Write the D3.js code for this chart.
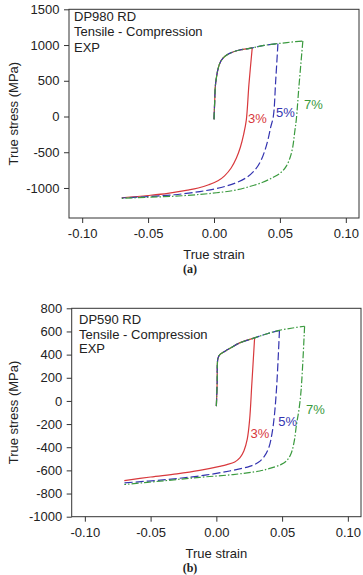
<!DOCTYPE html>
<html>
<head>
<meta charset="utf-8">
<script src="https://cdn.jsdelivr.net/npm/d3@7"></script>
<style>
  body { margin: 0; background: #fff; }
  text { font-family: "Liberation Sans", Arial, sans-serif; fill: #222; }
</style>
</head>
<body>
<script>
// x ticks (shared)
var xTicks = [-0.10, -0.05, 0.00, 0.05, 0.10];
var xTickLabels = ["-0.10", "-0.05", "0.00", "0.05", "0.10"];

// panel (a) DP980
var yTicksA = [-1000, -500, 0, 500, 1000, 1500];
var loadA = [[0,-40],[0.0005,200],[0.001,420],[0.0018,540],[0.003,660],[0.0045,750],[0.007,820],[0.01,865],
  [0.0144,903],[0.0195,930],[0.029,960],[0.038,995],[0.0485,1020],[0.058,1040],[0.0674,1056]];
var rev3A = [[0.029,960],[0.0265,450],[0.0245,-50],[0.0225,-250],[0.02,-430],[0.017,-580],[0.013,-720],
  [0.008,-830],[0.003,-900],[-0.004,-955],[-0.012,-1000],[-0.02,-1030],[-0.035,-1075],[-0.05,-1105],[-0.07,-1137]];
var rev5A = [[0.0485,1020],[0.0468,500],[0.045,0],[0.043,-150],[0.041,-320],[0.0385,-480],[0.0355,-620],
  [0.031,-750],[0.025,-850],[0.017,-925],[0.009,-975],[0,-1015],[-0.0108,-1050],[-0.03,-1095],[-0.05,-1120],[-0.07,-1140]];
var rev7A = [[0.0674,1056],[0.0644,413],[0.0624,-50],[0.0612,-220],[0.0598,-420],[0.0578,-570],[0.055,-690],
  [0.051,-780],[0.045,-850],[0.037,-920],[0.027,-980],[0.015,-1035],[0.002,-1067],[-0.0108,-1090],[-0.03,-1115],[-0.05,-1130],[-0.07,-1145]];

// panel (b) DP590
var yTicksB = [-1000, -800, -600, -400, -200, 0, 200, 400, 600, 800];
var loadB = [[0,-45],[0.0006,150],[0.0012,367],[0.0025,398],[0.006,425],[0.0101,453],[0.0177,501],
  [0.0291,545],[0.038,578],[0.048,610],[0.058,630],[0.0671,645]];
var rev3B = [[0.0291,545],[0.027,150],[0.0253,-163],[0.0235,-330],[0.021,-430],[0.018,-490],[0.014,-527],
  [0.008,-550],[0.0025,-565],[-0.0127,-600],[-0.03,-630],[-0.05,-657],[-0.07,-688]];
var rev5B = [[0.048,610],[0.046,150],[0.0443,-106],[0.0425,-270],[0.04,-400],[0.0367,-475],[0.032,-530],
  [0.0253,-565],[0.0101,-605],[-0.0127,-648],[-0.038,-679],[-0.07,-708]];
var rev7B = [[0.0671,645],[0.0645,100],[0.0628,-77],[0.061,-200],[0.0592,-350],[0.057,-450],[0.054,-510],
  [0.049,-550],[0.04,-585],[0.033,-605],[0.0127,-636],[-0.0127,-660],[-0.04,-690],[-0.07,-722]];

var seriesNames = ["3%", "5%", "7%"];
var peaks = [0.03, 0.049, 0.068];   // loading cut-off for each cycle

var svg = d3.select("body").append("svg")
    .attr("width", 363).attr("height", 575);

var styles = [
  {color: "#d8383c", dash: null},
  {color: "#3434b0", dash: "8,3"},
  {color: "#3a9a3e", dash: "7,2,1.5,2"}
];

function drawPanel(p) {
  var x = d3.scaleLinear().domain([-0.11, 0.11]).range([p.left, p.right]);
  var y = d3.scaleLinear().domain(p.yDomain).range([p.bottom, p.top]);
  var g = svg.append("g");

  // frame
  g.append("rect")
      .attr("x", p.left).attr("y", p.top)
      .attr("width", p.right - p.left).attr("height", p.bottom - p.top)
      .attr("fill", "none").attr("stroke", "#333").attr("stroke-width", 1);

  // axes
  var xAxis = d3.axisBottom(x).tickValues(xTicks).tickSize(5)
      .tickFormat(function(d, i) { return xTickLabels[i]; });
  g.append("g").attr("transform", "translate(0," + p.bottom + ")").call(xAxis)
    .call(function(a) {
      a.select(".domain").remove();
      a.selectAll("line").attr("stroke", "#333");
      a.selectAll("text").attr("dy", null).attr("y", 20).style("font-size", "13px")
        .style("font-family", "'Liberation Sans', Arial, sans-serif").attr("fill", "#222");
    });
  var yAxis = d3.axisLeft(y).tickValues(p.yTicks).tickSize(5)
      .tickFormat(function(d) { return String(d); });
  g.append("g").attr("transform", "translate(" + p.left + ",0)").call(yAxis)
    .call(function(a) {
      a.select(".domain").remove();
      a.selectAll("line").attr("stroke", "#333");
      a.selectAll("text").attr("x", -9.5).style("font-size", "13px")
        .style("font-family", "'Liberation Sans', Arial, sans-serif").attr("fill", "#222");
    });

  // curves: red first, green on top
  var line = d3.line()
      .x(function(d) { return x(d[0]); })
      .y(function(d) { return y(d[1]); })
      .curve(d3.curveCatmullRom.alpha(0.5));
  p.revs.forEach(function(rev, i) {
    var load = p.load.filter(function(d) { return d[0] <= peaks[i]; });
    [load, rev].forEach(function(seg) {
      g.append("path")
          .attr("d", line(seg))
          .attr("fill", "none")
          .attr("stroke", styles[i].color)
          .attr("stroke-width", 1.2)
          .attr("stroke-dasharray", styles[i].dash);
    });
    g.append("text")
        .attr("x", p.labelPos[i][0]).attr("y", p.labelPos[i][1])
        .style("font-size", "13px")
        .style("fill", styles[i].color)
        .text(seriesNames[i]);
  });

  // annotation block
  p.notes.forEach(function(t, i) {
    g.append("text")
        .attr("x", p.noteX).attr("y", p.noteY[i])
        .style("font-size", "13px")
        .text(t);
  });

  // axis titles
  g.append("text")
      .attr("x", (p.left + p.right) / 2).attr("y", p.bottom + 41)
      .style("text-anchor", "middle").style("font-size", "13px")
      .text("True strain");
  g.append("text")
      .attr("transform", "translate(18," + (p.top + p.bottom) / 2 + ")rotate(-90)")
      .style("text-anchor", "middle").style("font-size", "13px")
      .text("True stress (MPa)");

  g.append("text")
      .attr("x", 190).attr("y", p.bottom + 55)
      .style("text-anchor", "middle")
      .style("font-family", "'Liberation Serif', 'Times New Roman', serif")
      .style("font-weight", "bold").style("font-size", "12px")
      .text(p.tag);
}

drawPanel({
  left: 69, right: 359, top: 9.3, bottom: 218,
  yDomain: [-1420, 1500], yTicks: yTicksA,
  load: loadA, revs: [rev3A, rev5A, rev7A],
  labelPos: [[248, 123], [276, 117], [304, 109]],
  notes: ["DP980 RD", "Tensile - Compression", "EXP"],
  noteX: 74, noteY: [20.7, 36.2, 51.7],
  tag: "(a)"
});

drawPanel({
  left: 71.7, right: 361, top: 308.3, bottom: 516.7,
  yDomain: [-1000, 800], yTicks: yTicksB,
  load: loadB, revs: [rev3B, rev5B, rev7B],
  labelPos: [[250.5, 438.3], [278.3, 426], [306, 414]],
  notes: ["DP590 RD", "Tensile - Compression", "EXP"],
  noteX: 79, noteY: [324.3, 338.8, 353.3],
  tag: "(b)"
});
</script>
</body>
</html>
